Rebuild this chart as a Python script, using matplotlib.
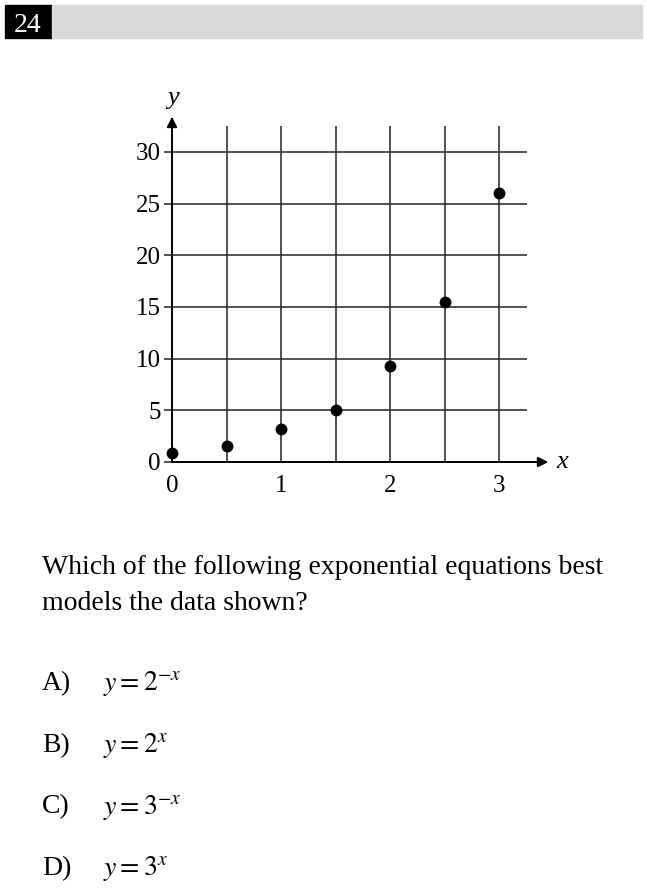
import matplotlib.pyplot as plt
from matplotlib.patches import Rectangle

plt.rcParams['font.family'] = ['Liberation Serif', 'DejaVu Serif']
plt.rcParams['mathtext.fontset'] = 'stix'

# data
x_vals = [0, 0.5, 1, 1.5, 2, 2.5, 3]
y_vals = [0.85, 1.55, 3.2, 5.0, 9.3, 15.5, 26.0]
y_ticks = [0, 5, 10, 15, 20, 25, 30]
x_ticks = [0, 1, 2, 3]
choices = ['A)', 'B)', 'C)', 'D)']
equations = [r'$y = 2^{-x}$', r'$y = 2^{x}$', r'$y = 3^{-x}$', r'$y = 3^{x}$']

W, H = 647, 891
fig = plt.figure(figsize=(W / 100, H / 100), dpi=100)

# header bar
fig.patches.append(Rectangle((5 / W, 1 - 38 / H), 47 / W, 33 / H,
                             transform=fig.transFigure, color='black'))
fig.patches.append(Rectangle((52 / W, 1 - 38 / H), 590 / W, 33 / H,
                             transform=fig.transFigure, color='#d9d9d9'))
fig.text(28 / W, 1 - 23 / H, '24', color='white', fontsize=20,
         ha='center', va='center_baseline')

# plot area
left, right, bottom, top = 172, 526.5, 462, 126
ax = fig.add_axes([left / W, 1 - bottom / H, (right - left) / W, (bottom - top) / H])
ax.set_xlim(0, 3.25)
ax.set_ylim(0, 32.5)
for s in ax.spines.values():
    s.set_visible(False)

for xv in [0.5, 1, 1.5, 2, 2.5, 3]:
    ax.axvline(xv, color='#333333', lw=1.2, zorder=1)
for yv in y_ticks[1:]:
    ax.axhline(yv, color='#333333', lw=1.2, zorder=1)

ax.set_yticks(y_ticks)
ax.set_xticks(x_ticks)
ax.tick_params(axis='y', length=6, width=1.2, color='#333333', labelsize=18, pad=2)
ax.tick_params(axis='x', length=0, labelsize=18, pad=9)

# axes with arrows
ax.annotate('', xy=(3.45, 0), xytext=(0, 0), annotation_clip=False,
            arrowprops=dict(arrowstyle='-|>', color='black', lw=1.4,
                            mutation_scale=15, shrinkA=0, shrinkB=0))
ax.annotate('', xy=(0, 33.4), xytext=(0, 0), annotation_clip=False,
            arrowprops=dict(arrowstyle='-|>', color='black', lw=1.4,
                            mutation_scale=15, shrinkA=0, shrinkB=0))
ax.text(3.58, 0, 'x', style='italic', fontsize=19, ha='center', va='center',
        clip_on=False)
ax.text(0.01, 35.2, 'y', style='italic', fontsize=19, ha='center', va='center',
        clip_on=False)

ax.plot(x_vals, y_vals, 'o', color='black', markersize=7.5, zorder=3, clip_on=False)

# question text
fig.text(42 / W, 1 - 567 / H, 'Which of the following exponential equations best',
         fontsize=20, va='center', ha='left')
fig.text(42 / W, 1 - 603 / H, 'models the data shown?',
         fontsize=20, va='center', ha='left')

for i, (c, eq) in enumerate(zip(choices, equations)):
    yy = 684 + i * 61.5
    fig.text(42 / W, 1 - yy / H, c, fontsize=20, va='center', ha='left')
    fig.text(103 / W, 1 - yy / H, eq, fontsize=20, va='center', ha='left')

fig.savefig('out.png', dpi=100)
